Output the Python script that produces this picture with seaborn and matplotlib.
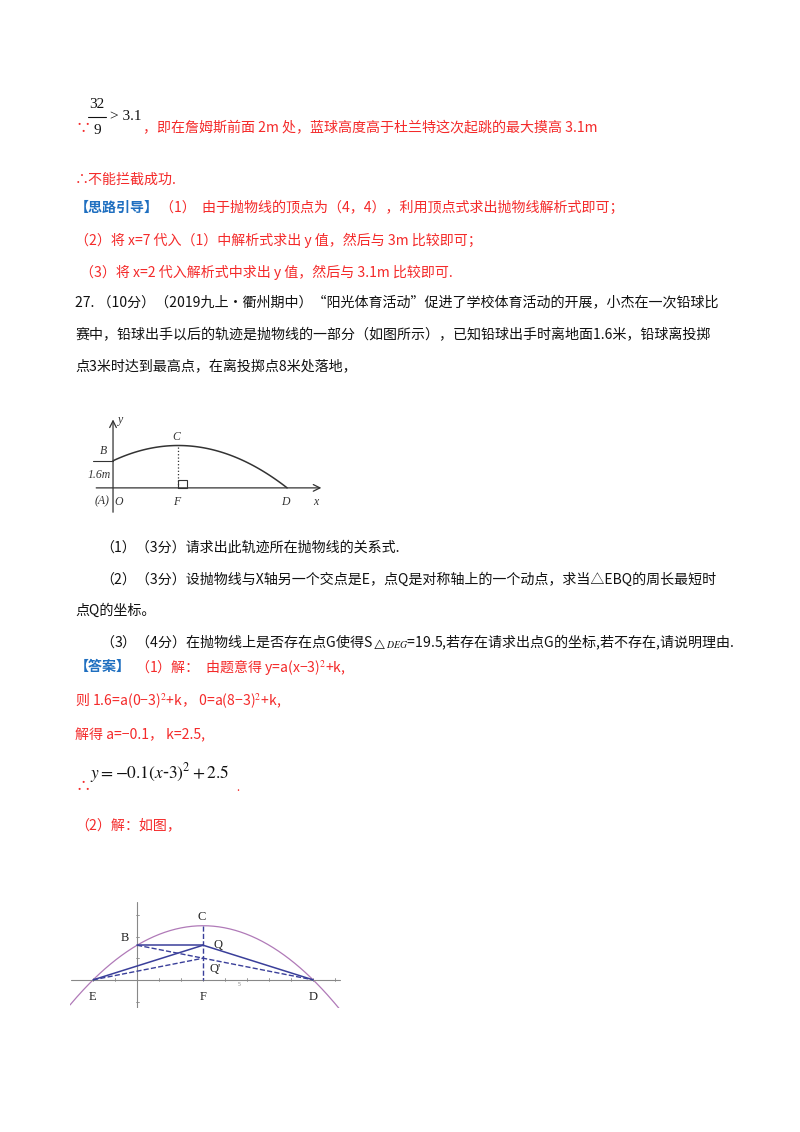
import numpy as np
import pandas as pd
import matplotlib
matplotlib.use('Agg')
import matplotlib.pyplot as plt
import seaborn as sns

sns.set_theme(style='white')
plt.rcParams['font.family'] = ['Noto Sans CJK SC', 'DejaVu Sans']
plt.rcParams['mathtext.fontset'] = 'stix'

RED = '#f42a2a'
BLUE = '#1f6fc0'
BLACK = '#111111'

# parabola data: y = a(x-h)^2 + k
a_coef, h_vertex, k_vertex = -0.1, 3, 2.5
pts_names = ['B', 'C', 'E', 'F', 'D', 'Q', "Q'"]
pts_x = [0, 3, -2, 3, 8, 3, 3]
pts_y = [1.6, 2.5, 0, 0, 0, 1.6, 1.0]
P = dict(zip(pts_names, zip(pts_x, pts_y)))

fig = plt.figure(figsize=(8, 11.32), dpi=100)
page = fig.add_axes([0, 0, 1, 1])
page.set_xlim(0, 800)
page.set_ylim(1132, 0)
page.axis('off')

fs = 10.1


def t(x, y, s, c=RED, **kw):
    page.text(x, y, s, color=c, fontsize=kw.pop('size', fs), va='center', ha='left', **kw)


# top lines
page.text(97, 105, '32', fontsize=11, color=BLACK, ha='center', va='center', family='Liberation Serif')
page.plot([88, 106], [117, 117], color=BLACK, lw=0.8)
page.text(97, 130, '9', fontsize=11, color=BLACK, ha='center', va='center', family='Liberation Serif')
page.text(110, 117, '> 3.1', fontsize=11, color=BLACK, va='center', family='Liberation Serif')
t(75, 128, '∵', size=11)
t(143, 128, '，即在詹姆斯前面 2m 处，蓝球高度高于杜兰特这次起跳的最大摸高 3.1m')
t(75, 180, '∴不能拦截成功.')
t(75, 208, '【思路引导】', c=BLUE, weight='bold')
t(160, 208, '（1）  由于抛物线的顶点为（4，4），利用顶点式求出抛物线解析式即可；')
t(75, 240, '（2）将 x=7 代入（1）中解析式求出 y 值，然后与 3m 比较即可；')
t(80, 272, '（3）将 x=2 代入解析式中求出 y 值，然后与 3.1m 比较即可.')
t(75, 303, '27. （10分）（2019九上•衢州期中）“阳光体育活动”促进了学校体育活动的开展，小杰在一次铅球比', c=BLACK)
t(75, 335, '赛中，铅球出手以后的轨迹是抛物线的一部分（如图所示），已知铅球出手时离地面1.6米，铅球离投掷', c=BLACK)
t(75, 367, '点3米时达到最高点，在离投掷点8米处落地，', c=BLACK)
t(100, 548, '（1）（3分）请求出此轨迹所在抛物线的关系式.', c=BLACK)
t(100, 580, '（2）（3分）设抛物线与X轴另一个交点是E，点Q是对称轴上的一个动点，求当△EBQ的周长最短时', c=BLACK)
t(75, 611, '点Q的坐标。', c=BLACK)
t(100, 642, '（3）（4分）在抛物线上是否存在点G使得S$_{\\triangle DEG}$=19.5,若存在请求出点G的坐标,若不存在,请说明理由.', c=BLACK)
t(75, 667, '【答案】', c=BLUE, weight='bold')
t(135, 667, '（1）解：  由题意得 y=a(x−3)$^2$+k,')
t(75, 701, '则 1.6=a(0−3)$^2$+k， 0=a(8−3)$^2$+k,')
t(75, 735, '解得 a=−0.1， k=2.5,')
t(75, 787, '∴', size=11)
page.text(90, 773, r'$y=-0.1(x$-$3)^2+2.5$', fontsize=12.5, color=BLACK, va='center')
t(236, 788, '.', size=8)
t(75, 825, '（2）解：如图，')

# ---- figure 1 ----
ax1 = fig.add_axes([93 / 800, 1 - 515 / 1132, (330 - 93) / 800, (515 - 415) / 1132])
ax1.set_xlim(-0.92, 9.97)
ax1.set_ylim(-1.6, 4.3)
ax1.axis('off')
x1 = np.linspace(0, 8, 100)
df1 = pd.DataFrame({'x': x1, 'y': a_coef * (x1 - h_vertex) ** 2 + k_vertex})
sns.lineplot(data=df1, x='x', y='y', ax=ax1, color='#333333', lw=1.1)
ax1.annotate('', xy=(9.7, 0), xytext=(-0.9, 0), arrowprops=dict(arrowstyle='->', lw=0.9, color='#333333'))
ax1.annotate('', xy=(0, 4.2), xytext=(0, -1.6), arrowprops=dict(arrowstyle='->', lw=0.9, color='#333333'))
ax1.plot([3, 3], [0, 2.5], ls=':', color='#333333', lw=0.9)
ax1.add_patch(plt.Rectangle((3, 0), 0.4, 0.45, fill=False, lw=0.8, ec='#333333'))
ax1.plot([-0.9, 0], [1.6, 1.6], color='#333333', lw=0.8)
ax1.annotate('', xy=(-0.6, 1.6), xytext=(-0.6, 1.05), arrowprops=dict(arrowstyle='->', lw=0.7))
ax1.annotate('', xy=(-0.6, 0), xytext=(-0.6, 0.45), arrowprops=dict(arrowstyle='->', lw=0.7))
lk = dict(fontsize=8.5, style='italic', family='Liberation Serif', color='#333333')
ax1.text(-0.65, 0.75, '1.6m', ha='center', va='center', **lk)
ax1.text(-0.45, 2.0, 'B', ha='center', **lk)
ax1.text(2.9, 2.85, 'C', ha='center', **lk)
ax1.text(0.25, -0.45, 'O', ha='center', va='top', **lk)
ax1.text(-0.5, -0.45, '(A)', ha='center', va='top', **lk)
ax1.text(2.9, -0.45, 'F', ha='center', va='top', **lk)
ax1.text(7.9, -0.45, 'D', ha='center', va='top', **lk)
ax1.text(9.3, -0.45, 'x', ha='center', va='top', **lk)
ax1.text(0.35, 4.0, 'y', ha='center', va='center', **lk)

# ---- figure 2 ----
ax2 = fig.add_axes([70 / 800, 1 - 1008 / 1132, (345 - 70) / 800, (1008 - 890) / 1132])
ax2.set_xlim(-3.05, 9.45)
ax2.set_ylim(-1.3, 4.15)
ax2.axis('off')
x2 = np.linspace(-3.05, 9.2, 200)
df2 = pd.DataFrame({'x': x2, 'y': a_coef * (x2 - h_vertex) ** 2 + k_vertex})
sns.lineplot(data=df2, x='x', y='y', ax=ax2, color='#b07ab8', lw=0.9)
ax2.plot([-3, 9.2], [0, 0], color='#888888', lw=0.8)
ax2.plot([0, 0], [-1.3, 3.6], color='#888888', lw=0.8)
for i in range(-2, 10):
    ax2.plot([i, i], [-0.07, 0.07], color='#888888', lw=0.6)
for j in range(-1, 4):
    ax2.plot([-0.07, 0.07], [j, j], color='#888888', lw=0.6)
ax2.text(4.6, -0.3, '5', fontsize=4, color='#888888')
navy = '#3a3f9a'
for p, q in [('B', 'Q'), ('E', 'Q'), ('Q', 'D')]:
    ax2.plot([P[p][0], P[q][0]], [P[p][1], P[q][1]], color=navy, lw=1.1)
for p, q in [('B', 'D'), ('E', "Q'"), ('C', 'F')]:
    ax2.plot([P[p][0], P[q][0]], [P[p][1], P[q][1]], color=navy, lw=1, ls='--')
lk2 = dict(fontsize=9, family='Liberation Serif', color='#222222')
ax2.text(-0.55, 1.8, 'B', ha='center', **lk2)
ax2.text(2.95, 2.75, 'C', ha='center', **lk2)
ax2.text(3.7, 1.45, 'Q', ha='center', **lk2)
ax2.text(3.55, 0.35, "Q'", ha='center', **lk2)
ax2.text(-2.05, -0.5, 'E', ha='center', va='top', **lk2)
ax2.text(3.0, -0.5, 'F', ha='center', va='top', **lk2)
ax2.text(8.0, -0.5, 'D', ha='center', va='top', **lk2)

fig.savefig('out.png', dpi=100, facecolor='white')
